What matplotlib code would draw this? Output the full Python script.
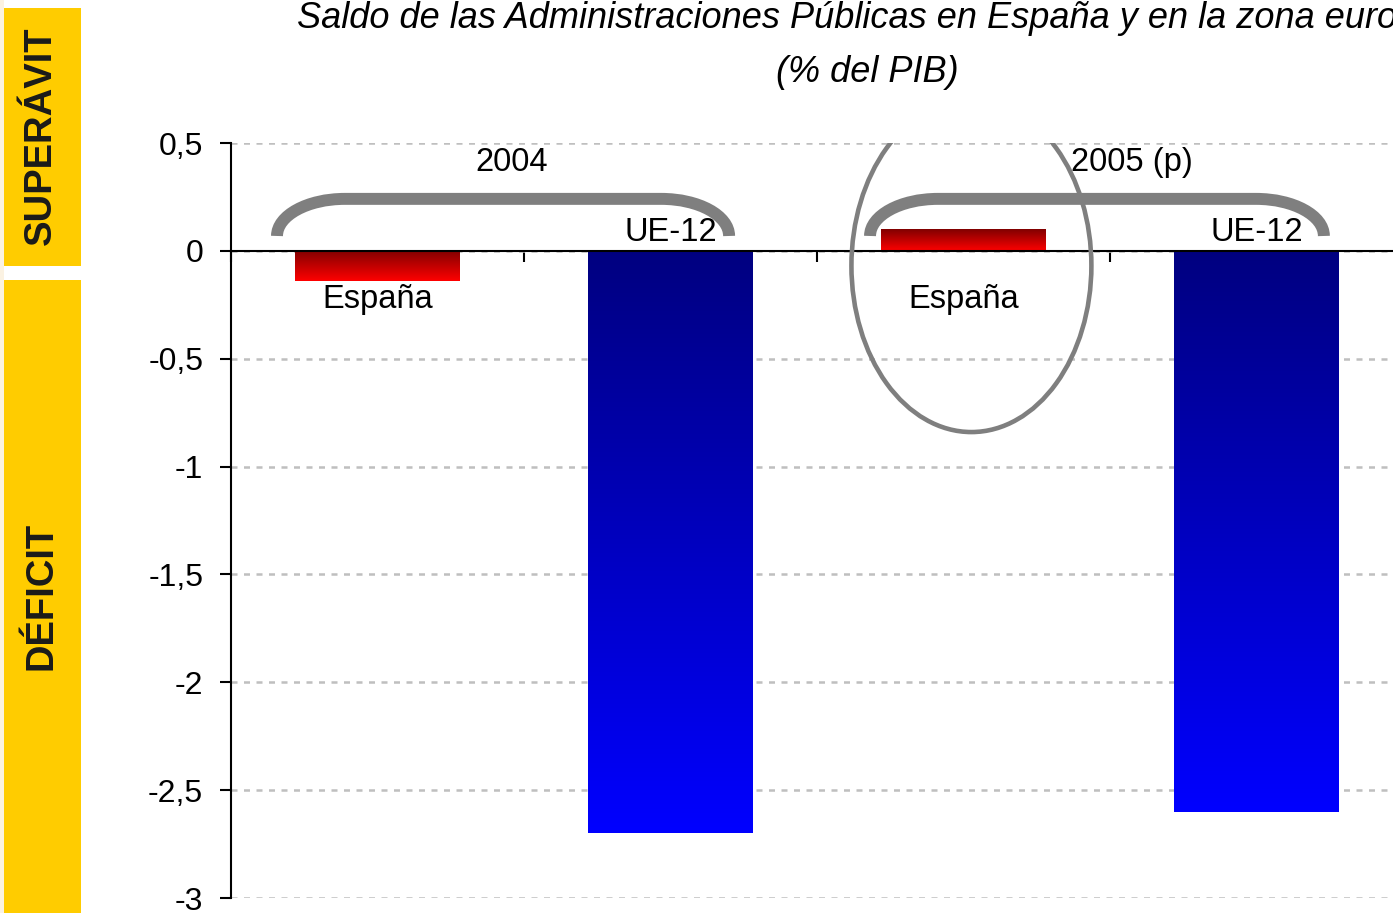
import numpy as np
import matplotlib
matplotlib.use('Agg')
import matplotlib.pyplot as plt
from matplotlib.colors import LinearSegmentedColormap
from matplotlib.patches import Ellipse, Rectangle, PathPatch
from matplotlib.path import Path

plt.rcParams['font.family'] = ['Liberation Sans', 'DejaVu Sans']

# datos (% del PIB)
paises = ['España', 'UE-12', 'España', 'UE-12']
saldo = [-0.14, -2.7, 0.1, -2.6]
posiciones = [0.5, 1.5, 2.5, 3.5]
anios = ['2004', '2005 (p)']
anios_x = [0.957, 3.075]
y_ticks = [0.5, 0, -0.5, -1, -1.5, -2, -2.5, -3]
y_labels = ['0,5', '0', '-0,5', '-1', '-1,5', '-2', '-2,5', '-3']

rojo = LinearSegmentedColormap.from_list('rojo', ['#800000', '#FF0000'])
azul = LinearSegmentedColormap.from_list('azul', ['#000080', '#0000FF'])
mapas = [rojo, azul, rojo, azul]

fig = plt.figure(figsize=(13.93, 9.13), dpi=100)
ax = fig.add_axes([231 / 1393, 1 - 898 / 913, 1172 / 1393, 755 / 913])

barras = ax.bar(posiciones, saldo, width=0.56, color='none', edgecolor='none')
grad = np.linspace(0, 1, 256).reshape(-1, 1)
for p, cm in zip(barras.patches, mapas):
    x0, y0 = p.get_xy()
    w, h = p.get_width(), p.get_height()
    ax.imshow(grad, extent=[x0, x0 + w, min(y0, y0 + h), max(y0, y0 + h)],
              cmap=cm, aspect='auto', origin='upper', zorder=2)

ax.set_xlim(0, 4)
ax.set_ylim(-3, 0.5)
ax.set_yticks(y_ticks)
ax.set_yticklabels(y_labels)
ax.set_xticks([0, 1, 2, 3, 4])
ax.set_xticklabels([])
ax.tick_params(axis='y', labelsize=23, length=8, width=1.5, pad=12)
ax.tick_params(axis='x', length=8, width=1.5, direction='out')
ax.yaxis.grid(True, color='#BFBFBF', linestyle=(0, (2.4, 2.6)), linewidth=1.8)
ax.set_axisbelow(True)
for s in ['top', 'right']:
    ax.spines[s].set_visible(False)
ax.spines['bottom'].set_position(('data', 0))
ax.spines['bottom'].set_linewidth(1.5)
ax.spines['left'].set_linewidth(1.5)
ax.spines['bottom'].set_zorder(3)

# etiquetas de las barras
for x, v, nombre in zip(posiciones, saldo, paises):
    if nombre == 'España':
        ax.text(x, -0.265, nombre, fontsize=23.5, ha='center', va='baseline', zorder=5)
    else:
        ax.text(x, 0.046, nombre, fontsize=23.5, ha='center', va='baseline', zorder=5)
for x, a in zip(anios_x, anios):
    ax.text(x, 0.371, a, fontsize=23.5, ha='center', va='baseline', zorder=5)


def llave(x0, x1, yb, yt, r):
    k = 0.5523
    verts = [(x0, yb), (x0, yb + k * (yt - yb)), (x0 + r - k * r, yt), (x0 + r, yt),
             (x1 - r, yt),
             (x1 - r + k * r, yt), (x1, yb + k * (yt - yb)), (x1, yb)]
    codes = [Path.MOVETO, Path.CURVE4, Path.CURVE4, Path.CURVE4,
             Path.LINETO,
             Path.CURVE4, Path.CURVE4, Path.CURVE4]
    return PathPatch(Path(verts, codes), facecolor='none', edgecolor='#7F7F7F',
                     lw=8.6, capstyle='butt', joinstyle='round', zorder=4)


ax.add_patch(llave(0.157, 1.70, 0.069, 0.241, 0.232))
ax.add_patch(llave(2.181, 3.730, 0.069, 0.241, 0.232))
ax.add_patch(Ellipse((2.527, -0.069), 0.819, 1.542, facecolor='none',
                     edgecolor='#7F7F7F', lw=3.3, zorder=4))

# bandas laterales
fig.add_artist(Rectangle((0, 0), 4 / 1393, 1, transform=fig.transFigure,
                         color='#FBF2E2', lw=0))
fig.add_artist(Rectangle((4 / 1393, 1 - 266 / 913), 77 / 1393, 258 / 913,
                         transform=fig.transFigure, color='#FFCC00', lw=0))
fig.add_artist(Rectangle((4 / 1393, 0), 77 / 1393, 633 / 913,
                         transform=fig.transFigure, color='#FFCC00', lw=0))
fig.text(51 / 1393, 1 - 136 / 913, 'SUPERÁVIT', rotation=90, rotation_mode='anchor',
         ha='center', va='baseline', fontsize=27.5, fontweight='bold', color='#1A1A1A')
fig.text(51 / 1393, 1 - 596 / 913, 'DÉFICIT', rotation=90, rotation_mode='anchor',
         ha='center', va='baseline', fontsize=27.5, fontweight='bold', color='#1A1A1A')

# titulo
fig.text(297 / 1393, 1 - 28 / 913,
         'Saldo de las Administraciones Públicas en España y en la zona euro',
         fontsize=26, style='italic', ha='left', va='baseline')
fig.text(867.5 / 1393, 1 - 82 / 913, '(% del PIB)', fontsize=26, style='italic',
         ha='center', va='baseline')

fig.savefig('out.png', dpi=100)
